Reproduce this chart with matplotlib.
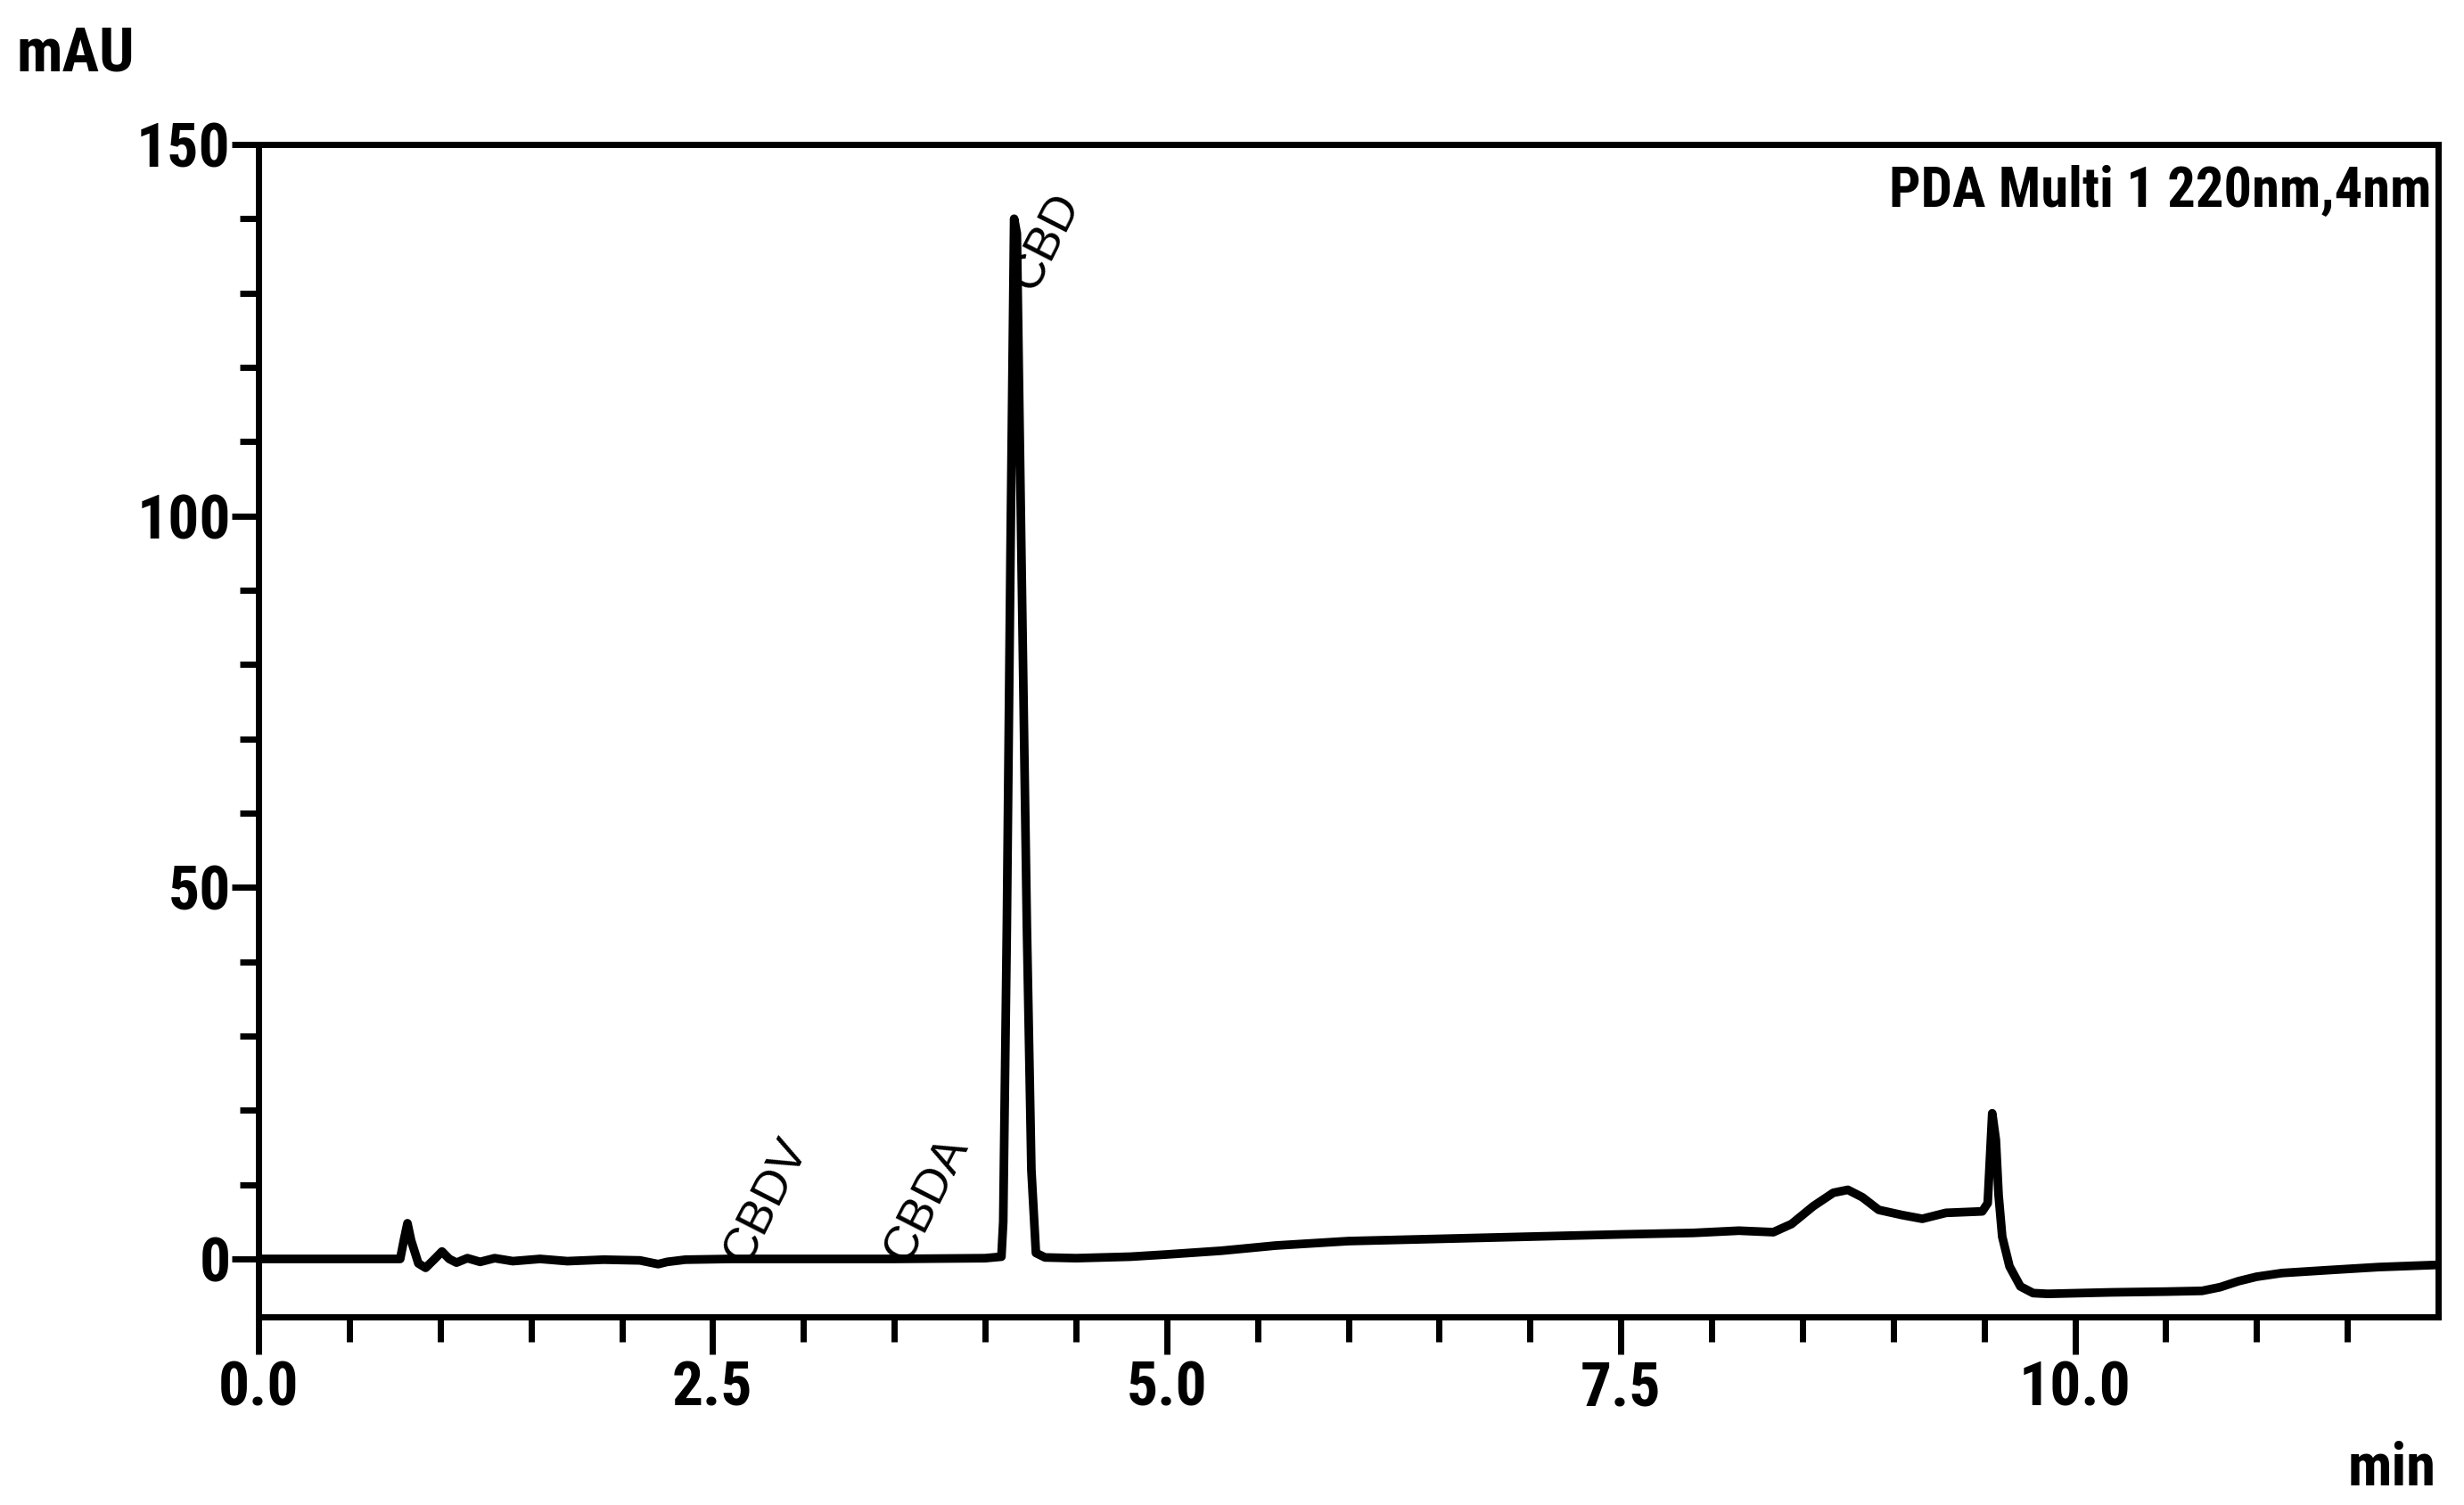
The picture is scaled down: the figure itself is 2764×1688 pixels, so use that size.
import os
import matplotlib
matplotlib.use("Agg")
import matplotlib.pyplot as plt
from matplotlib import font_manager
from matplotlib.font_manager import FontProperties
from matplotlib.ticker import FixedLocator, FixedFormatter

# ---------------- data ----------------
time_min = [0.00, 0.40, 0.78, 0.80, 0.82, 0.84, 0.88, 0.92, 0.97, 1.01, 1.05, 1.09,
            1.15, 1.22, 1.30, 1.40, 1.55, 1.70, 1.90, 2.10, 2.20, 2.25, 2.35, 2.60,
            3.00, 3.50, 4.00, 4.09, 4.10, 4.12, 4.14, 4.16, 4.175, 4.20, 4.23, 4.255,
            4.28, 4.33, 4.50, 4.80, 5.00, 5.30, 5.60, 6.00, 6.50, 7.00, 7.50, 7.90,
            8.15, 8.34, 8.44, 8.56, 8.67, 8.75, 8.83, 8.92, 9.05, 9.16, 9.29, 9.49,
            9.52, 9.545, 9.565, 9.58, 9.60, 9.64, 9.70, 9.77, 9.85, 10.20, 10.50,
            10.70, 10.80, 10.90, 11.00, 11.14, 11.40, 11.67, 12.00]
signal_mau = [0.0, 0.0, 0.0, 2.5, 4.8, 2.5, -0.6, -1.2, 0.0, 1.0, 0.0, -0.5,
              0.1, -0.4, 0.1, -0.3, 0.0, -0.3, -0.1, -0.2, -0.7, -0.4, -0.1, 0.0,
              0.0, 0.0, 0.1, 0.3, 5.0, 45.0, 95.0, 140.0, 138.0, 95.0, 45.0, 12.0,
              0.8, 0.2, 0.1, 0.3, 0.6, 1.1, 1.8, 2.4, 2.7, 3.0, 3.3, 3.5,
              3.8, 3.6, 4.7, 7.1, 8.9, 9.3, 8.3, 6.6, 5.9, 5.4, 6.2, 6.4,
              7.5, 19.6, 16.0, 8.6, 3.0, -1.0, -3.7, -4.6, -4.7, -4.5, -4.4,
              -4.3, -3.8, -3.0, -2.4, -1.9, -1.5, -1.1, -0.8]

peak_names = ["CBDV", "CBDA", "CBD"]
peak_label_x = [2.69, 3.57, 4.27]
peak_label_y = [-1.0, -0.8, 130.0]

x_major = [0.0, 2.5, 5.0, 7.5, 10.0]
x_major_labels = ["0.0", "2.5", "5.0", "7.5", "10.0"]
x_minor = [0.5, 1.0, 1.5, 2.0, 3.0, 3.5, 4.0, 4.5, 5.5, 6.0, 6.5, 7.0,
           8.0, 8.5, 9.0, 9.5, 10.5, 11.0, 11.5]
y_major = [0, 50, 100, 150]
y_major_labels = ["0", "50", "100", "150"]
y_minor = [10, 20, 30, 40, 60, 70, 80, 90, 110, 120, 130, 140]

channel_text = "PDA Multi 1 220nm,4nm"
y_unit = "mAU"
x_unit = "min"

# ---------------- fonts: prefer a condensed bold sans ----------------
def find_condensed(bold=True):
    prefs = ["liberation sans narrow", "arial narrow", "roboto condensed",
             "open sans condensed", "noto sans condensed", "dejavu sans condensed"]
    best = None
    best_rank = 99
    for f in font_manager.fontManager.ttflist:
        base = os.path.basename(f.fname).lower()
        name = f.name.lower()
        is_bold = (f.weight in ("bold", 700, "heavy") or
                   (isinstance(f.weight, int) and f.weight >= 600) or "bold" in base)
        if bold != is_bold:
            continue
        if "italic" in base or "oblique" in base:
            continue
        label = name + " " + base
        cond = ("narrow" in label or "condensed" in label or
                f.stretch in ("condensed", "semi-condensed", "extra-condensed"))
        if not cond:
            continue
        rank = 50
        for i, p in enumerate(prefs):
            key = p.replace(" ", "")
            if p in label or key in label.replace(" ", "").replace("-", ""):
                rank = i
                break
        if "semi" in label or "extra" in label or "ultra" in label:
            rank += 10
        if rank < best_rank:
            best_rank = rank
            best = f.fname
    return best

cond_bold = find_condensed(True)
if cond_bold:
    def boldfp(size):
        return FontProperties(fname=cond_bold, size=size)
    big = 1.0
else:
    def boldfp(size):
        return FontProperties(family=["Liberation Sans", "DejaVu Sans"],
                              weight="bold", size=size)
    big = 0.9

regular = ["Liberation Sans", "DejaVu Sans"]
tick_fs = 50 * big

# ---------------- figure ----------------
W, H = 2764, 1688
fig = plt.figure(figsize=(W / 100, H / 100), dpi=100)
fig.patch.set_facecolor("white")
ax = fig.add_axes([290 / W, 1 - 1477 / H, 2445 / W, 1315 / H])

ax.plot(time_min, signal_mau, color="black", lw=7.0, solid_joinstyle="round",
        solid_capstyle="round")

ax.set_xlim(0, 12.0)
ax.set_ylim(-7.8, 150)

for s in ax.spines.values():
    s.set_linewidth(5.0)
    s.set_color("black")

ax.xaxis.set_major_locator(FixedLocator(x_major))
ax.xaxis.set_major_formatter(FixedFormatter(x_major_labels))
ax.xaxis.set_minor_locator(FixedLocator(x_minor))
ax.yaxis.set_major_locator(FixedLocator(y_major))
ax.yaxis.set_major_formatter(FixedFormatter(y_major_labels))
ax.yaxis.set_minor_locator(FixedLocator(y_minor))

ax.tick_params(axis="x", which="major", direction="out", length=30, width=5, pad=5)
ax.tick_params(axis="x", which="minor", direction="out", length=20, width=5)
ax.tick_params(axis="y", which="major", direction="out", length=21.5, width=5, pad=1.0)
ax.tick_params(axis="y", which="minor", direction="out", length=15, width=5)

for lab in ax.get_xticklabels() + ax.get_yticklabels():
    lab.set_fontproperties(boldfp(tick_fs))

# peak labels
for name, px, py in zip(peak_names, peak_label_x, peak_label_y):
    ax.text(px, py, name, rotation=63, rotation_mode="anchor", ha="left",
            va="baseline", fontsize=39, family=regular, color="black")

ax.text(0.9967, 0.9475, channel_text, transform=ax.transAxes, ha="right",
        va="baseline", fontproperties=boldfp(45 * big))

fig.text(18 / W, 1 - 79 / H, y_unit, ha="left", va="baseline",
         fontproperties=boldfp(50 * big))
fig.text(2733 / W, 1 - 1666 / H, x_unit, ha="right", va="baseline",
         fontproperties=boldfp(48 * big))

fig.savefig("out.png", dpi=100, facecolor="white")
